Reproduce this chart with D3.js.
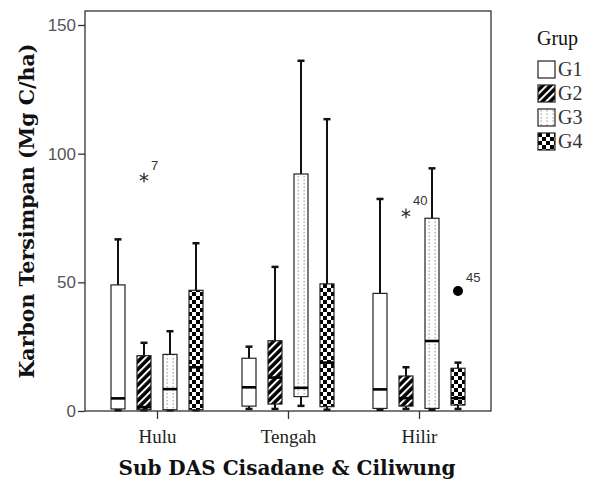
<!DOCTYPE html>
<html>
<head>
<meta charset="utf-8">
<script src="https://cdn.jsdelivr.net/npm/d3@7"></script>
<style>
  body { margin: 0; background: #fff; }
  svg { display: block; }
</style>
</head>
<body>
<div id="chart"></div>
<script>
// categories and groups
var categories = ["Hulu", "Tengah", "Hilir"];
var groups = ["G1", "G2", "G3", "G4"];
var yTicks = [0, 50, 100, 150];

// five-number summaries [min, q1, median, q3, max] per group, per category
var hulu   = [[0.3, 0.8, 4.9, 49.0, 66.7], [0.3, 0.5, 1.5, 21.5, 26.5], [0.3, 0.5, 8.5, 22.0, 31.0], [0.3, 0.5, 17.0, 46.9, 65.2]];
var tengah = [[0.8, 1.9, 9.2, 20.5, 25.0], [0.8, 2.7, 13.0, 27.3, 56.0], [2.0, 5.6, 9.0, 92.1, 136.1], [0.5, 1.7, 18.8, 49.4, 113.4]];
var hilir  = [[0.5, 1.0, 8.4, 45.7, 82.4], [0.8, 1.9, 5.0, 13.6, 17.0], [0.5, 1.0, 27.2, 74.9, 94.3], [0.8, 2.3, 5.0, 16.6, 18.8]];

// outliers: category, group, value, case label, type
var outliers = [
  {cat: "Hulu",  grp: "G2", value: 90.7, label: "7",  type: "extreme"},
  {cat: "Hilir", grp: "G2", value: 76.8, label: "40", type: "extreme"},
  {cat: "Hilir", grp: "G4", value: 46.6, label: "45", type: "outlier"}
];

var summaries = [hulu, tengah, hilir];
var boxes = [];
categories.forEach(function(c, i) {
  groups.forEach(function(g, j) {
    var s = summaries[i][j];
    boxes.push({cat: c, grp: g, min: s[0], q1: s[1], med: s[2], q3: s[3], max: s[4]});
  });
});

var width = 602, height = 483;
var frame = {left: 85, right: 491, top: 11, bottom: 411};
var serif = "'Liberation Serif', 'Times New Roman', serif";
var heavySerif = "'DejaVu Serif', Georgia, serif";

var svg = d3.select("#chart")
  .append("svg")
    .attr("width", width)
    .attr("height", height);

// fill patterns
var defs = svg.append("defs");

var stripes = defs.append("pattern")
  .attr("id", "pat-G2")
  .attr("patternUnits", "userSpaceOnUse")
  .attr("width", 5.5).attr("height", 5.5)
  .attr("patternTransform", "rotate(45)");
stripes.append("rect").attr("width", 5.5).attr("height", 5.5).attr("fill", "#000");
stripes.append("rect").attr("x", 0).attr("width", 2).attr("height", 5.5).attr("fill", "#fff");

var dots = defs.append("pattern")
  .attr("id", "pat-G3")
  .attr("patternUnits", "userSpaceOnUse")
  .attr("width", 6).attr("height", 3.5);
dots.append("rect").attr("width", 6).attr("height", 3.5).attr("fill", "#fff");
dots.append("rect").attr("x", 2.5).attr("y", 1).attr("width", 1.3).attr("height", 1.3).attr("fill", "#9a9a9a");

var checks = defs.append("pattern")
  .attr("id", "pat-G4")
  .attr("patternUnits", "userSpaceOnUse")
  .attr("width", 8).attr("height", 8);
checks.append("rect").attr("width", 8).attr("height", 8).attr("fill", "#fff");
checks.append("rect").attr("width", 4).attr("height", 4).attr("fill", "#000");
checks.append("rect").attr("x", 4).attr("y", 4).attr("width", 4).attr("height", 4).attr("fill", "#000");

var fillFor = {"G1": "#fff", "G2": "url(#pat-G2)", "G3": "url(#pat-G3)", "G4": "url(#pat-G4)"};

// scales
var y = d3.scaleLinear()
  .domain([0, 150])
  .range([411, 25]);

var x = d3.scalePoint()
  .domain(categories)
  .range([157, 419]);

var xg = d3.scaleBand()
  .domain(groups)
  .range([-52, 52]);

var boxW = 14;
function cx(cat, grp) { return x(cat) + xg(grp) + xg.bandwidth() / 2; }

// frame
svg.append("rect")
  .attr("x", frame.left).attr("y", frame.top)
  .attr("width", frame.right - frame.left)
  .attr("height", frame.bottom - frame.top)
  .attr("fill", "none")
  .attr("stroke", "#333")
  .attr("stroke-width", 1.3);

// y axis
var yAxis = svg.append("g")
  .attr("transform", "translate(" + frame.left + ",0)")
  .call(d3.axisLeft(y).tickValues(yTicks).tickSize(7).tickPadding(2));
yAxis.select(".domain").remove();
yAxis.selectAll("line").attr("stroke", "#333").attr("stroke-width", 1.3);
yAxis.selectAll("text")
  .style("font-family", "'Liberation Sans', Arial, sans-serif")
  .style("font-size", "17px")
  .attr("fill", "#555");

// x axis
var xAxis = svg.append("g")
  .attr("transform", "translate(0," + frame.bottom + ")")
  .call(d3.axisBottom(x).tickSize(8).tickPadding(11));
xAxis.select(".domain").remove();
xAxis.selectAll("line").attr("stroke", "#333").attr("stroke-width", 1.3);
xAxis.selectAll("text")
  .style("font-family", serif)
  .style("font-size", "19px")
  .attr("fill", "#222");

// boxes
var bx = svg.append("g")
  .selectAll("g")
  .data(boxes)
  .enter()
  .append("g")
    .attr("transform", function(d) { return "translate(" + cx(d.cat, d.grp) + ",0)"; });

// whiskers
bx.append("line")
  .attr("x1", 0).attr("x2", 0)
  .attr("y1", function(d) { return y(d.q3); })
  .attr("y2", function(d) { return y(d.max); })
  .attr("stroke", "#111").attr("stroke-width", 2);
bx.append("line")
  .attr("x1", 0).attr("x2", 0)
  .attr("y1", function(d) { return y(d.q1); })
  .attr("y2", function(d) { return y(d.min); })
  .attr("stroke", "#111").attr("stroke-width", 2);
bx.append("line")
  .attr("x1", -3.5).attr("x2", 3.5)
  .attr("y1", function(d) { return y(d.max); })
  .attr("y2", function(d) { return y(d.max); })
  .attr("stroke", "#111").attr("stroke-width", 2.5);
bx.append("line")
  .attr("x1", -3.5).attr("x2", 3.5)
  .attr("y1", function(d) { return y(d.min); })
  .attr("y2", function(d) { return y(d.min); })
  .attr("stroke", "#111").attr("stroke-width", 2.5);

bx.append("rect")
  .attr("x", -boxW / 2)
  .attr("width", boxW)
  .attr("y", function(d) { return y(d.q3); })
  .attr("height", function(d) { return y(d.q1) - y(d.q3); })
  .attr("fill", function(d) { return fillFor[d.grp]; })
  .attr("stroke", "#222")
  .attr("stroke-width", 1.2);

bx.append("line")
  .attr("x1", -boxW / 2).attr("x2", boxW / 2)
  .attr("y1", function(d) { return y(d.med); })
  .attr("y2", function(d) { return y(d.med); })
  .attr("stroke", "#000").attr("stroke-width", 2.6);

// outliers
var og = svg.append("g")
  .selectAll("g")
  .data(outliers)
  .enter()
  .append("g")
    .attr("transform", function(d) { return "translate(" + cx(d.cat, d.grp) + "," + y(d.value) + ")"; });

var starType = d3.symbolAsterisk || d3.symbolCross;
og.filter(function(d) { return d.type === "extreme"; })
  .append("path")
    .attr("d", d3.symbol().type(starType).size(65))
    .attr("fill", "none")
    .attr("stroke", "#333")
    .attr("stroke-width", 1.3);

og.filter(function(d) { return d.type === "outlier"; })
  .append("circle")
    .attr("r", 5)
    .attr("fill", "#000");

og.append("text")
  .attr("x", function(d) { return d.type === "outlier" ? 8 : 7; })
  .attr("y", function(d) { return d.type === "outlier" ? -9 : -8; })
  .text(function(d) { return d.label; })
  .style("font-family", "'Liberation Sans', Arial, sans-serif")
  .style("font-size", "13px")
  .attr("fill", "#333");

// axis titles
svg.append("text")
  .attr("transform", "translate(34,211) rotate(-90)")
  .attr("text-anchor", "middle")
  .style("font-family", heavySerif)
  .style("font-weight", "bold")
  .style("font-size", "20.5px")
  .attr("fill", "#111")
  .text("Karbon Tersimpan (Mg C/ha)");

svg.append("text")
  .attr("x", 287)
  .attr("y", 475)
  .attr("text-anchor", "middle")
  .style("font-family", heavySerif)
  .style("font-weight", "bold")
  .style("font-size", "20px")
  .attr("fill", "#111")
  .text("Sub DAS Cisadane & Ciliwung");

// legend
var legend = svg.append("g");
legend.append("text")
  .attr("x", 537).attr("y", 45)
  .style("font-family", serif)
  .style("font-size", "20px")
  .attr("fill", "#111")
  .text("Grup");

var li = legend.selectAll("g.item")
  .data(groups)
  .enter()
  .append("g")
    .attr("class", "item")
    .attr("transform", function(d, i) { return "translate(538," + (61 + i * 24) + ")"; });
li.append("rect")
  .attr("width", 17).attr("height", 17)
  .attr("fill", function(d) { return fillFor[d]; })
  .attr("stroke", "#222")
  .attr("stroke-width", 1.2);
li.append("text")
  .attr("x", 20).attr("y", 15)
  .text(function(d) { return d; })
  .style("font-family", serif)
  .style("font-size", "20px")
  .attr("fill", "#333");
</script>
</body>
</html>
